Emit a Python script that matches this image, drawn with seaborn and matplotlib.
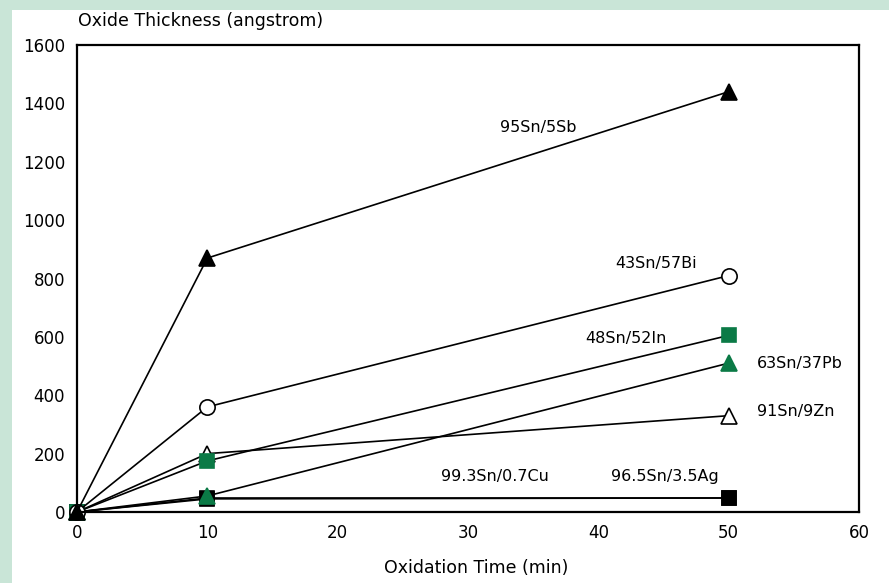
import matplotlib
matplotlib.use("Agg")
import matplotlib.pyplot as plt
import matplotlib.patches as mpatches
import seaborn as sns
import pandas as pd

time_min = [0, 10, 50]

alloys = ["99.3Sn/0.7Cu", "96.5Sn/3.5Ag", "91Sn/9Zn", "63Sn/37Pb",
          "48Sn/52In", "43Sn/57Bi", "95Sn/5Sb"]
cu_07 = [0, 48, 48]
ag_35 = [0, 45, 48]
zn_9 = [0, 200, 330]
pb_37 = [0, 55, 510]
in_52 = [0, 175, 605]
bi_57 = [0, 360, 810]
sb_5 = [0, 870, 1440]

green = "#0b7a46"
mint = "#c9e5d7"

sns.set_style("white")
plt.rcParams['font.family'] = ['Liberation Sans Narrow', 'DejaVu Sans']
plt.rcParams['text.color'] = 'black'

df = pd.DataFrame({
    "time": time_min * 7,
    "thickness": cu_07 + ag_35 + zn_9 + pb_37 + in_52 + bi_57 + sb_5,
    "alloy": [a for a in alloys for _ in time_min],
})

# marker style per alloy: (marker, face, size)
styles = {
    "99.3Sn/0.7Cu": ("s", "black", 10),
    "96.5Sn/3.5Ag": ("s", "black", 10),
    "91Sn/9Zn": ("^", "white", 12),
    "63Sn/37Pb": ("^", green, 12),
    "48Sn/52In": ("s", green, 10),
    "43Sn/57Bi": ("o", "white", 11),
    "95Sn/5Sb": ("^", "black", 12),
}

fig = plt.figure(figsize=(8.89, 5.83), dpi=100)
fig.patch.set_facecolor(mint)
fig.patches.append(mpatches.Rectangle((12 / 889, 0), 1, 1 - 10 / 583,
                                      transform=fig.transFigure,
                                      facecolor="white", edgecolor="none", zorder=-10))
ax = fig.add_axes([77 / 889, 71 / 583, 782 / 889, 467 / 583])
ax.set_facecolor("white")

for a in alloys:
    m, fc, ms = styles[a]
    edge = green if fc == green else "black"
    sns.lineplot(data=df[df.alloy == a], x="time", y="thickness", ax=ax,
                 color="black", linewidth=1.2, marker=m, markersize=ms,
                 markerfacecolor=fc, markeredgecolor=edge, markeredgewidth=1.2,
                 clip_on=False, legend=False)

ax.set_xlim(0, 60)
ax.set_ylim(0, 1600)
ax.set_xticks(range(0, 61, 10))
ax.set_yticks(range(0, 1601, 200))
ax.tick_params(direction="inout", length=9, width=1.3, labelsize=12,
               colors="black", labelcolor="black", pad=4)
for s in ax.spines.values():
    s.set_linewidth(1.6)
    s.set_color("black")
ax.set_xlabel("")
ax.set_ylabel("")

fig.text(78 / 889, 1 - 21 / 583, "Oxide Thickness (angstrom)", fontsize=12.5,
         ha="left", va="center")
fig.text(476 / 889, 1 - 568 / 583, "Oxidation Time (min)", fontsize=12.5,
         ha="center", va="center")

lab = dict(fontsize=11.5, va="center")
ax.text(35.4, 1318, "95Sn/5Sb", ha="center", **lab)
ax.text(44.4, 853, "43Sn/57Bi", ha="center", **lab)
ax.text(42.1, 596, "48Sn/52In", ha="center", **lab)
ax.text(52.2, 510, "63Sn/37Pb", ha="left", **lab)
ax.text(52.2, 346, "91Sn/9Zn", ha="left", **lab)
ax.text(32.1, 120, "99.3Sn/0.7Cu", ha="center", **lab)
ax.text(45.1, 120, "96.5Sn/3.5Ag", ha="center", **lab)

fig.savefig("out.png", dpi=100, facecolor=fig.get_facecolor())
